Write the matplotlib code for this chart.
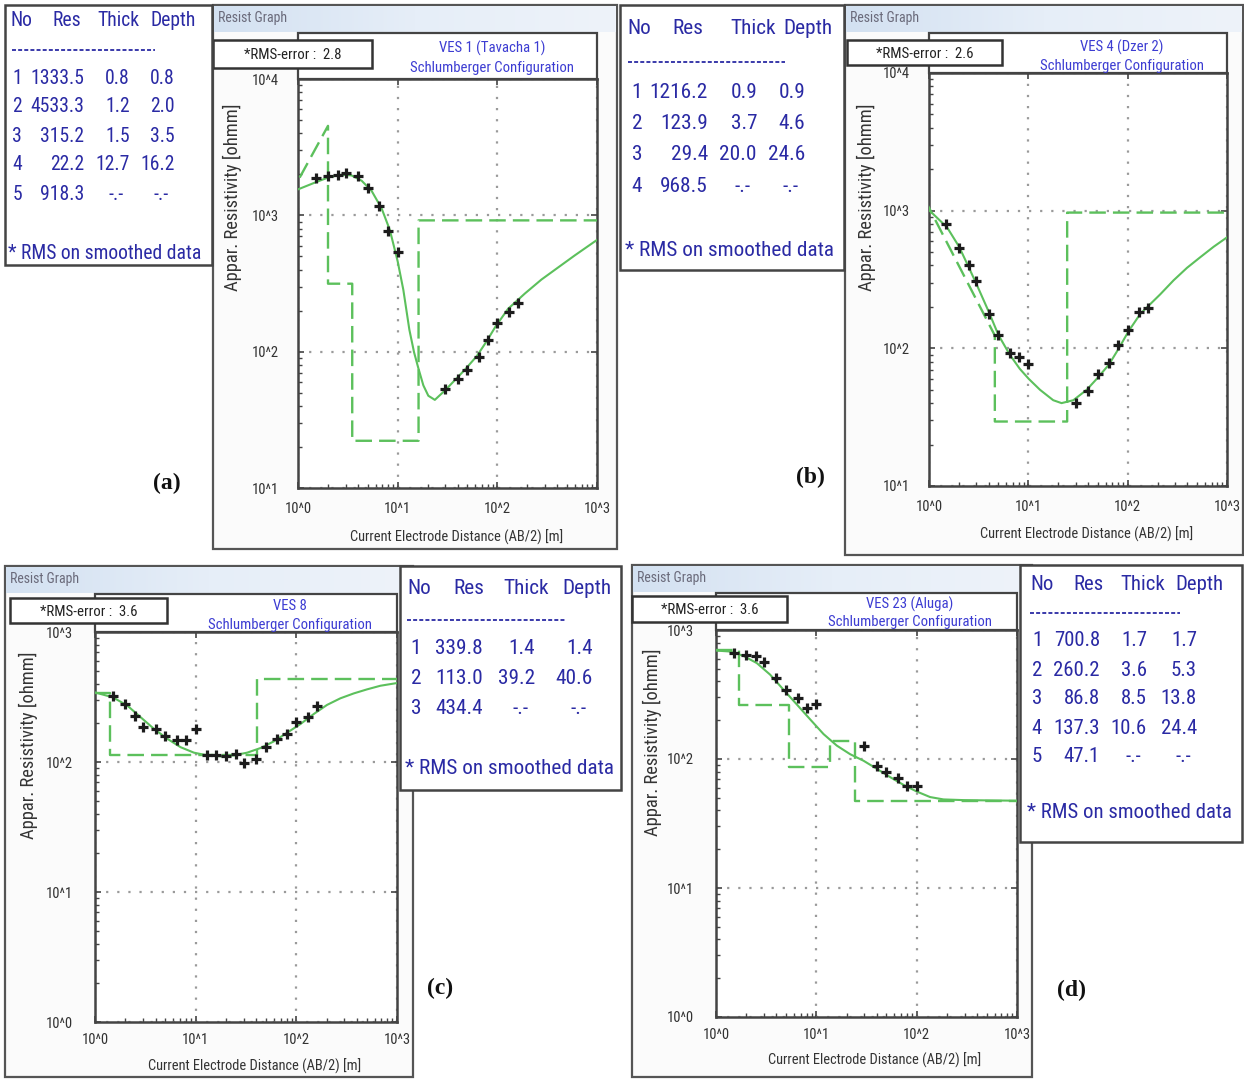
import matplotlib
matplotlib.use('Agg')
import matplotlib.pyplot as plt
from matplotlib.patches import Rectangle
from matplotlib.lines import Line2D
from matplotlib.colors import LinearSegmentedColormap
from matplotlib.ticker import LogLocator, NullFormatter, FixedLocator, FixedFormatter
from matplotlib import font_manager
from matplotlib.font_manager import FontProperties
from matplotlib.textpath import TextPath
import numpy as np

# ---------------- DATA ----------------
# (a) VES 1 (Tavacha 1)
a_res = [1333.5, 4533.3, 315.2, 22.2, 918.3]
a_thick = [0.8, 1.2, 1.5, 12.7]
a_depth = [0.8, 2.0, 3.5, 16.2]
a_rms = "2.8"
a_obs_x = [1.5, 2, 2.5, 3, 4, 5, 6.5, 8, 10, 30, 40, 50, 65, 80, 100, 130, 160]
a_obs_y = [1885, 1928, 1986, 2044, 1928, 1600, 1171, 768, 535, 53.4, 63, 73.8, 92, 121, 163, 197, 227]
a_fit_x = [1.0, 1.54, 2.05, 2.73, 3.44, 4.35, 5.48, 6.9, 8.35, 10.0, 11.4, 13.1, 14.6, 16.1, 18.1, 20.3,
           23.6, 29.8, 39, 47.3, 62.4, 78, 96, 128, 189, 277, 408, 600, 1000]
a_fit_y = [1550, 1760, 1905, 1985, 1963, 1795, 1510, 1125, 780, 460, 284, 145, 99, 76, 56.6, 47.5,
           44.3, 51.9, 63.7, 73.8, 93, 119, 153, 206, 267, 338, 415, 509, 660]

# (b) VES 4 (Dzer 2)
b_res = [1216.2, 123.9, 29.4, 968.5]
b_thick = [0.9, 3.7, 20.0]
b_depth = [0.9, 4.6, 24.6]
b_rms = "2.6"
b_obs_x = [1.5, 2, 2.5, 3, 4, 5, 6.5, 8, 10, 30, 40, 50, 65, 80, 100, 130, 160]
b_obs_y = [804, 538, 403, 307, 178, 124, 92, 86.7, 77, 40.3, 49.2, 64.6, 78.9, 106, 137, 184, 195]
b_fit_x = [1.0, 1.52, 2.01, 2.48, 3.0, 4.0, 5.0, 6.5, 8.2, 10.1, 13.1, 17.8, 21.6, 28.4, 38.7, 48.8,
           64.6, 80.8, 102, 134, 213, 290, 395, 538, 734, 1000]
b_fit_y = [1010, 757, 547, 396, 294, 184, 125, 90, 71, 60, 50, 42, 40, 42, 50, 60,
           76, 99, 133, 178, 247, 312, 384, 459, 547, 640]

# (c) VES 8
c_res = [339.8, 113.0, 434.4]
c_thick = [1.4, 39.2]
c_depth = [1.4, 40.6]
c_rms = "3.6"
c_obs_x = [1.5, 2, 2.5, 3, 4, 5, 6.5, 8, 10, 13, 16, 20, 25, 30, 40, 50, 65, 80, 100, 130, 160]
c_obs_y = [324, 279, 225, 185, 180, 158, 147, 147, 180, 114, 114, 112, 116, 98.8, 106, 130, 151, 165, 202, 221, 268]
c_fit_x = [1.0, 1.51, 2.09, 2.84, 3.85, 5.22, 7.08, 9.6, 13, 17.7, 23.9, 32.5, 44, 59.7, 81, 110, 149,
           202, 274, 372, 504, 684, 1000]
c_fit_y = [343, 314, 272, 221, 180, 151, 130, 118, 112.5, 110.5, 112.5, 118, 128, 144, 168, 196, 234,
           275, 309, 337, 362, 386, 405]

# (d) VES 23 (Aluga)
d_res = [700.8, 260.2, 86.8, 137.3, 47.1]
d_thick = [1.7, 3.6, 8.5, 10.6]
d_depth = [1.7, 5.3, 13.8, 24.4]
d_rms = "3.6"
d_obs_x = [1.5, 2, 2.5, 3, 4, 5, 6.5, 8, 10, 30, 40, 50, 65, 80, 100]
d_obs_y = [662, 643, 624, 561, 425, 345, 298, 247, 265, 127, 89, 80, 71, 61.6, 61.6]
d_fit_x = [1.0, 1.38, 1.87, 2.55, 3.46, 4.7, 6.38, 8.67, 11.8, 16, 21.7, 29.5, 40, 54.5, 74, 100, 136,
           185, 294, 1000]
d_fit_y = [693, 681, 631, 554, 451, 345, 265, 203, 156, 127, 109, 97, 84, 72.3, 63, 56, 50.7,
           48.6, 48, 47.5]

# ---------------- FONTS ----------------
W, H = 1244, 1079
FONT_FILE = None
prefs = ['liberationsansnarrow-regular', 'liberationsansnarrow', 'robotocondensed-regular',
         'dejavusanscondensed.ttf', 'opensanscondensed', 'notosans-condensed', 'condensed', 'narrow']
files = [f.fname for f in font_manager.fontManager.ttflist]
for p in prefs:
    hits = [fn for fn in files if p in fn.lower().replace(' ', '').replace('_', '')
            and 'bold' not in fn.lower() and 'italic' not in fn.lower() and 'oblique' not in fn.lower()
            and 'light' not in fn.lower()]
    if hits:
        FONT_FILE = sorted(hits)[0]
        break
names = {f.name for f in font_manager.fontManager.ttflist}
SERIF = 'Liberation Serif' if 'Liberation Serif' in names else 'DejaVu Serif'
BASE = 'Liberation Sans' if 'Liberation Sans' in names else 'DejaVu Sans'


def fp(size):
    if FONT_FILE:
        return FontProperties(fname=FONT_FILE, size=size)
    return FontProperties(family=BASE, size=size)


def fit(s, target_px):
    w = TextPath((0, 0), s, prop=fp(10)).get_extents().width
    return 10 * target_px / (w * 100 / 72.0)


GREEN = '#5cc05c'
TBLUE = '#2a2aa4'
HBLUE = '#3c3cd2'
EDGE = '#444444'

fig = plt.figure(figsize=(W / 100, H / 100), dpi=100)
fig.patch.set_facecolor('white')


def rect(x0, y0, x1, y1, **kw):
    r = Rectangle((x0 / W, 1 - y1 / H), (x1 - x0) / W, (y1 - y0) / H,
                  transform=fig.transFigure, **kw)
    fig.add_artist(r)
    return r


def txt(x, y, s, size=10, **kw):
    kw.setdefault('va', 'center')
    if 'family' not in kw:
        kw['fontproperties'] = fp(size)
    else:
        kw['fontsize'] = size
    return fig.text(x / W, 1 - y / H, s, **kw)


def hline(x0, x1, y, **kw):
    fig.add_artist(Line2D([x0 / W, x1 / W], [1 - y / H, 1 - y / H], transform=fig.transFigure, **kw))


grad_cmap = LinearSegmentedColormap.from_list('tb', ['#d3e1f1', '#e6eef8', '#eef3fa'])

S_TICK = fit('10^3', 25)
S_XLAB = fit('Current Electrode Distance (AB/2) [m]', 212)
S_YLAB = fit('Appar. Resistivity [ohmm]', 185)
S_HEAD = fit('Schlumberger Configuration', 162)
S_RG = fit('Resist Graph', 68)
S_RMS = fit('*RMS-error :  2.8', 96)


def window(win, axbox, title1, title2, tcx, tys, rms, rmsbox, ylims, ylab_xy, xlab_xy, tickpad):
    x0, y0, x1, y1 = win
    rect(x0, y0, x1, y1, facecolor='#fbfbfb', edgecolor='#555555', lw=1.6, zorder=-2)
    tbh = 27
    tax = fig.add_axes([(x0 + 1) / W, 1 - (y0 + tbh) / H, (x1 - x0 - 2) / W, (tbh - 1) / H], zorder=-1)
    tax.imshow(np.linspace(0, 1, 200).reshape(1, -1), aspect='auto', cmap=grad_cmap)
    tax.axis('off')
    txt(x0 + 5, y0 + 13, 'Resist Graph', S_RG, color='#6a6a7a', ha='left', zorder=4)
    ax0, ay0, ax1, ay1 = axbox
    rect(ax0, y0 + tbh + 1, ax1, ay0, facecolor='white', edgecolor=EDGE, lw=1.6, zorder=-0.5)
    txt(tcx, tys[0], title1, S_HEAD, color=HBLUE, ha='center', zorder=4)
    txt(tcx, tys[1], title2, S_HEAD, color=HBLUE, ha='center', zorder=4)
    rx0, ry0, rx1, ry1 = rmsbox
    rect(rx0, ry0, rx1, ry1, facecolor='white', edgecolor='#333333', lw=1.8, zorder=3)
    txt((rx0 + rx1) / 2, (ry0 + ry1) / 2 + 1, '*RMS-error :  ' + rms, S_RMS, color='#222222',
        ha='center', zorder=4)
    ax = fig.add_axes([ax0 / W, 1 - ay1 / H, (ax1 - ax0) / W, (ay1 - ay0) / H], zorder=1)
    ax.set_facecolor('white')
    ax.set_xscale('log')
    ax.set_yscale('log')
    ax.set_xlim(1, 1000)
    ax.set_ylim(*ylims)
    ax.xaxis.set_major_locator(FixedLocator([1, 10, 100, 1000]))
    ax.xaxis.set_major_formatter(FixedFormatter(['10^0', '10^1', '10^2', '10^3']))
    e0, e1 = int(round(np.log10(ylims[0]))), int(round(np.log10(ylims[1])))
    ax.yaxis.set_major_locator(FixedLocator([10.0 ** k for k in range(e0, e1 + 1)]))
    ax.yaxis.set_major_formatter(FixedFormatter(['10^%d' % k for k in range(e0, e1 + 1)]))
    for axis in (ax.xaxis, ax.yaxis):
        axis.set_minor_locator(LogLocator(base=10, subs=np.arange(2, 10)))
        axis.set_minor_formatter(NullFormatter())
    ax.tick_params(which='both', direction='in', colors='#444444', labelcolor='#333333')
    ax.tick_params(which='major', length=4, width=1.2, top=True, right=True)
    ax.tick_params(which='minor', length=3, width=1.0, top=False, right=False)
    ax.tick_params(axis='x', which='major', pad=tickpad[0])
    ax.tick_params(axis='y', which='major', pad=tickpad[1])
    for lab in ax.get_xticklabels() + ax.get_yticklabels():
        lab.set_fontproperties(fp(S_TICK))
    ax.grid(True, which='major', linestyle=(0, (1, 4)), color='#9a9a9a', lw=1.6)
    for s in ax.spines.values():
        s.set_color(EDGE)
        s.set_linewidth(1.8)
    txt(ylab_xy[0], ylab_xy[1], 'Appar. Resistivity [ohmm]', S_YLAB, color='#333333',
        rotation=90, ha='center', zorder=4)
    txt(xlab_xy[0], xlab_xy[1], 'Current Electrode Distance (AB/2) [m]', S_XLAB, color='#333333',
        ha='center', zorder=4)
    return ax


def model_path(res, depth, xmax, first_below_axis):
    xs, ys = [], []
    if first_below_axis:
        xs += [depth[0]]
        ys += [res[0]]
        for i in range(1, len(depth)):
            xs += [depth[i], depth[i]]
            ys += [res[i], res[i + 1]]
    else:
        xs += [1.0, depth[0]]
        ys += [res[0], res[0]]
        for i in range(len(depth)):
            xs += [depth[i], depth[i]]
            ys += [res[i], res[i + 1]]
    xs += [xmax]
    ys += [res[-1]]
    return xs, ys


def draw_data(ax, obs_x, obs_y, fit_x, fit_y, res, depth, first_below):
    mx, my = model_path(res, depth, 1000, first_below)
    ax.plot(mx, my, color=GREEN, lw=1.7, dashes=(7, 3), zorder=3)
    ax.plot(fit_x, fit_y, color=GREEN, lw=1.5, zorder=4)
    ax.plot(obs_x, obs_y, linestyle='none', marker='+', ms=7, mew=2.3, color='#1c1c1c', zorder=5)


def fmt(v):
    return '%.1f' % v


def table(box, rms_w, hdr_y, hdr_pos, dash, row_y0, row_dy, cols, rms_xy, res, thick, depth):
    fs = fit('* RMS on smoothed data', rms_w)
    x0, y0, x1, y1 = box
    rect(x0, y0, x1, y1, facecolor='white', edgecolor=EDGE, lw=1.8, zorder=5)
    for (x, s) in zip(hdr_pos, ['No', 'Res', 'Thick', 'Depth']):
        txt(x, hdr_y, s, fs, color=TBLUE, ha='left', zorder=6)
    hline(dash[0], dash[1], dash[2], color=TBLUE, lw=1.3, dashes=(2.2, 1.2), zorder=6)
    for i, r in enumerate(res):
        y = row_y0 + i * row_dy
        txt(cols[0], y, str(i + 1), fs, color=TBLUE, ha='center', zorder=6)
        txt(cols[1], y, fmt(r), fs, color=TBLUE, ha='right', zorder=6)
        if i < len(thick):
            txt(cols[2], y, fmt(thick[i]), fs, color=TBLUE, ha='right', zorder=6)
            txt(cols[3], y, fmt(depth[i]), fs, color=TBLUE, ha='right', zorder=6)
        else:
            txt(cols[2] - 6, y, '-.-', fs, color=TBLUE, ha='right', zorder=6)
            txt(cols[3] - 6, y, '-.-', fs, color=TBLUE, ha='right', zorder=6)
    txt(rms_xy[0], rms_xy[1], '* RMS on smoothed data', fs, color=TBLUE, ha='left', zorder=6)


def panel_label(x, y, s):
    txt(x, y, s, 17, fontweight='bold', family=SERIF, ha='center', color='#111111')


# ---------------- PANEL (a) ----------------
ax_a = window((213, 5, 617, 549), (298, 79, 597, 488), 'VES 1 (Tavacha 1)', 'Schlumberger Configuration',
              492, (48, 68), a_rms, (213, 40, 372, 68), (10, 1e4), (232, 197), (457, 537), (10, 14))
draw_data(ax_a, a_obs_x, a_obs_y, a_fit_x, a_fit_y, a_res, a_depth, True)
table((5, 5, 212, 265), 192, 20, [10, 53, 97, 151], (12, 155, 50), 78, 29, (17, 84, 130, 175),
      (8, 253), a_res, a_thick, a_depth)
panel_label(167, 483, '(a)')

# ---------------- PANEL (b) ----------------
ax_b = window((845, 5, 1243, 555), (929, 73, 1227, 486), 'VES 4 (Dzer 2)', 'Schlumberger Configuration',
              1122, (47, 66), b_rms, (847, 40, 1002, 65), (10, 1e4), (866, 197), (1087, 534), (10, 14))
draw_data(ax_b, b_obs_x, b_obs_y, b_fit_x, b_fit_y, b_res, b_depth, True)
table((620, 5, 844, 270), 208, 28, [627, 672, 730, 783], (628, 785, 62), 92, 31.5, (637, 708, 757, 805),
      (625, 251), b_res, b_thick, b_depth)
panel_label(810, 477, '(b)')

# ---------------- PANEL (c) ----------------
ax_c = window((5, 566, 413, 1077), (95, 632, 397, 1022), 'VES 8', 'Schlumberger Configuration',
              290, (606, 625), c_rms, (10, 598, 167, 623), (1, 1e3), (28, 745), (255, 1066), (8, 16))
draw_data(ax_c, c_obs_x, c_obs_y, c_fit_x, c_fit_y, c_res, c_depth, False)
table((400, 566, 621, 790), 208, 588, [407, 453, 503, 562], (407, 565, 620), 648, 30, (416, 483, 535, 593),
      (405, 768), c_res, c_thick, c_depth)
panel_label(440, 988, '(c)')

# ---------------- PANEL (d) ----------------
ax_d = window((632, 565, 1032, 1077), (716, 630, 1017, 1017), 'VES 23 (Aluga)', 'Schlumberger Configuration',
              910, (604, 622), d_rms, (632, 596, 787, 622), (1, 1e3), (652, 742), (875, 1060), (8, 16))
draw_data(ax_d, d_obs_x, d_obs_y, d_fit_x, d_fit_y, d_res, d_depth, False)
table((1020, 565, 1242, 842), 203, 584, [1030, 1073, 1120, 1175], (1030, 1180, 613), 641, 29,
      (1037, 1100, 1147, 1197), (1027, 813), d_res, d_thick, d_depth)
panel_label(1072, 990, '(d)')

fig.savefig('out.png', dpi=100, facecolor='white')
